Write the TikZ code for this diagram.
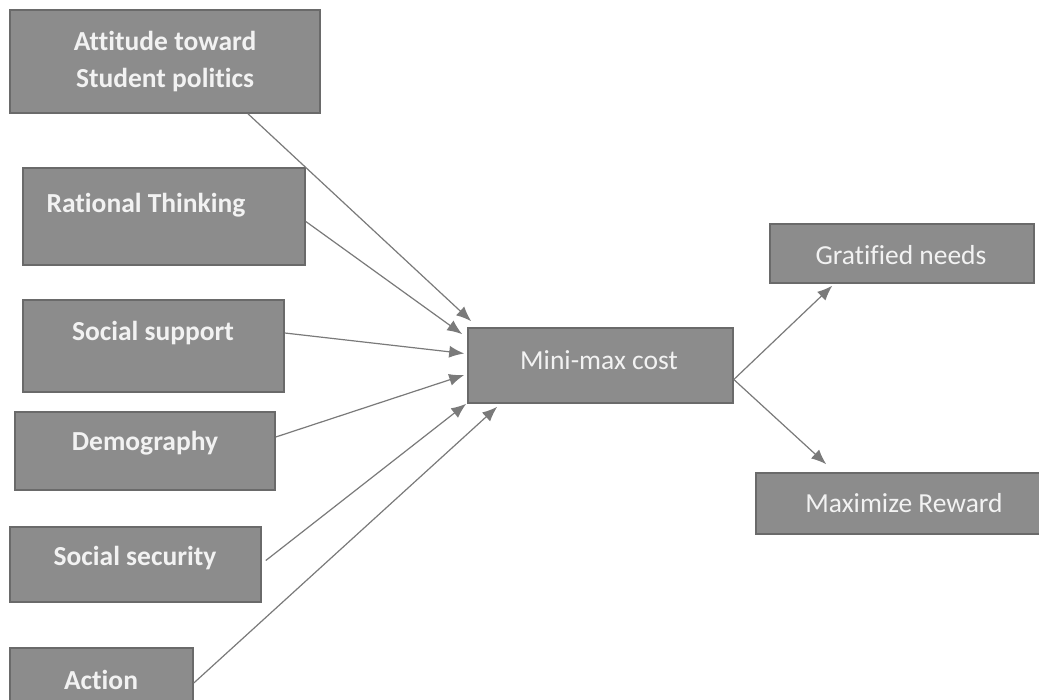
\documentclass[tikz,border=0pt]{standalone}
\usepackage{fontspec}
\setmainfont[Ligatures=NoCommon]{Carlito}
\usetikzlibrary{arrows.meta}
\definecolor{boxfill}{HTML}{8C8C8C}
\definecolor{boxline}{HTML}{6A6A6A}
\definecolor{txt}{HTML}{F2F2F2}
\definecolor{arr}{HTML}{7A7A7A}
\tikzset{
  box/.style={draw=boxline, line width=1.6pt, fill=boxfill, inner sep=0pt},
  lbl/.style={text=txt, inner sep=0pt, font=\fontsize{27.5}{37}\selectfont\bfseries, align=center},
  lblr/.style={text=txt, inner sep=0pt, font=\fontsize{27.5}{37}\selectfont, align=center},
  conn/.style={draw=arr, line width=1.2pt, -{Latex[length=15pt,width=12pt]}},
}
\begin{document}
\begin{tikzpicture}[x=1pt,y=-1pt]
\useasboundingbox (0,0) rectangle (1039,700);
\clip (0,0) rectangle (1039,700);
\fill[white] (0,0) rectangle (1039,700);
% left boxes
\node[box, minimum width=310pt, minimum height=103pt] (att) at (165,61.5) {};
\node[lbl] (attT) at (165,62) {Attitude toward\\Student politics};
\node[box, minimum width=282pt, minimum height=97pt] (rat) at (164,216.5) {};
\node[lbl] (ratT) at (146,205) {Rational Thinking};
\node[box, minimum width=261pt, minimum height=92pt] (sup) at (153.5,346) {};
\node[lbl] (supT) at (153,333) {Social support};
\node[box, minimum width=260pt, minimum height=78pt] (dem) at (145,451) {};
\node[lbl] (demT) at (145,443) {Demography};
\node[box, minimum width=251pt, minimum height=75pt] (sec) at (135.5,564.5) {};
\node[lbl] (secT) at (135,558) {Social security};
\node[box, minimum width=183pt, minimum height=70pt] (act) at (101.5,683) {};
\node[lbl] (actT) at (101,680) {Action};
% centre
\node[box, minimum width=265pt, minimum height=75pt] (mm) at (600.5,365.5) {};
\node[lblr] (mmT) at (599,360) {Mini-max cost};
% right
\node[box, minimum width=264pt, minimum height=59pt] (grat) at (902,253.5) {};
\node[lblr] (gratT) at (901,255) {Gratified needs};
\node[box, minimum width=290pt, minimum height=61pt] (max) at (901,503.5) {};
\node[lblr] (maxT) at (904,503) {Maximize Reward};
% connectors
\draw[conn] ([xshift=83pt]att.south) -- ([xshift=4pt,yshift=6pt]mm.north west);
\draw[conn] ([yshift=-5pt]rat.east) -- ([xshift=-5pt,yshift=-7pt]mm.north west);
\draw[conn] ([yshift=13pt]sup.east) -- ([xshift=-3pt,yshift=12pt]mm.west);
\draw[conn] ([yshift=14pt]dem.east) -- ([xshift=-3pt,yshift=-9.5pt]mm.west);
\draw[conn] ([xshift=4pt,yshift=4pt]sec.east) -- ([xshift=-1pt,yshift=0pt]mm.south west);
\draw[conn] (act.east) -- ([xshift=30pt,yshift=-3pt]mm.south west);
\draw[conn] ([yshift=-14pt]mm.east) -- ([xshift=63pt,yshift=-2pt]grat.south west);
\draw[conn] ([yshift=-14pt]mm.east) -- ([xshift=71pt,yshift=8pt]max.north west);
\end{tikzpicture}
\end{document}
